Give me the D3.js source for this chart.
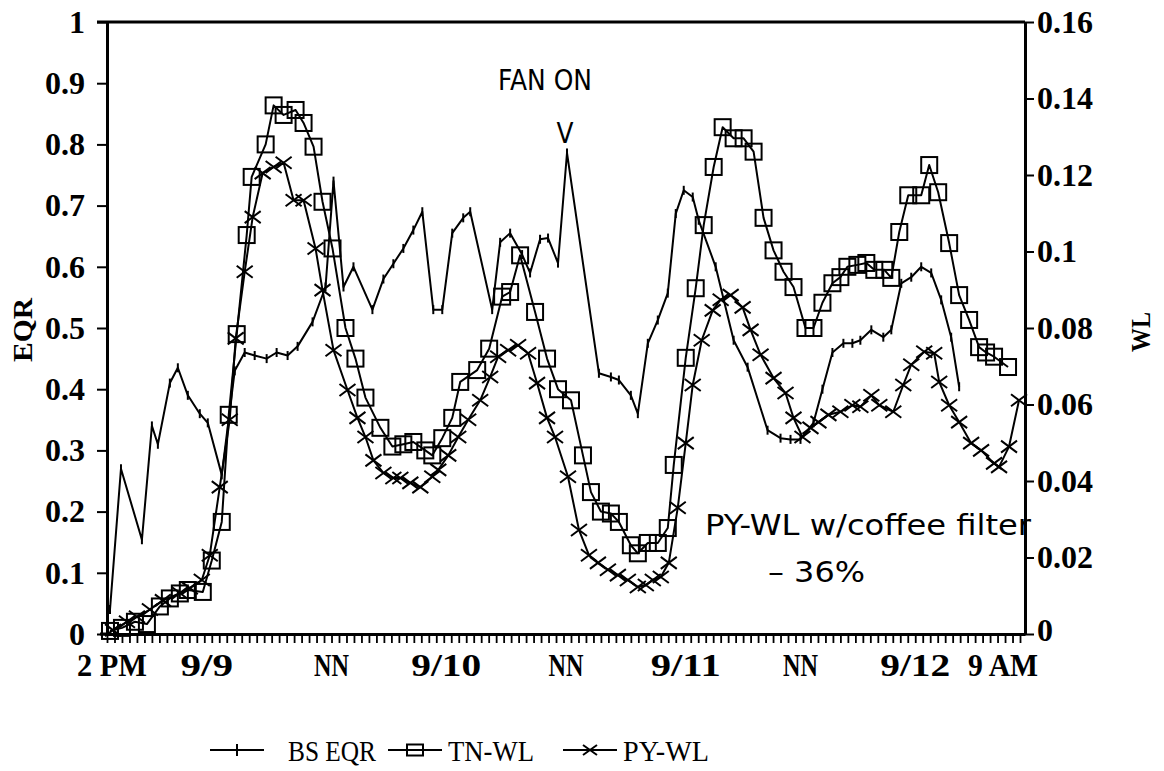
<!DOCTYPE html>
<html lang="en">
<head>
<meta charset="utf-8">
<title>BS EQR, TN-WL and PY-WL</title>
<style>
  body { margin: 0; background: #fff; }
  svg text { fill: #000; }
  .tick-label { font-family: "Liberation Serif", "Times New Roman", serif; font-weight: bold; font-size: 32px; }
  .axis-title { font-family: "Liberation Serif", "Times New Roman", serif; font-weight: bold; font-size: 28px; }
  .legend-label { font-family: "Liberation Serif", "Times New Roman", serif; font-size: 29px; }
  .note { font-family: "DejaVu Sans", sans-serif; font-size: 29px; }
  .series { fill: none; stroke: #000; stroke-width: 2; stroke-linejoin: round; }
  .marker { fill: none; stroke: #000; stroke-width: 2; }
</style>
</head>
<body>
<div class="chart"></div>
<script src="https://d3js.org/d3.v7.min.js"></script>
<script>
// hours since 2 PM on 9/8
var bsHours = [0.3, 1.4, 3.5, 4.5, 5.1, 6.3, 7.1, 8.1, 9.3, 10.1, 11.5, 12.8, 13.8, 14.8, 16.0, 17.0, 18.1, 19.1, 20.6, 21.9,
  22.7, 23.7, 24.7, 26.6, 27.7, 28.7, 29.7, 30.7, 31.6, 32.7, 33.6, 34.6, 35.7, 36.4, 38.6, 39.4, 40.4, 41.6, 42.4, 43.4,
  44.2, 45.2, 46.1, 49.3, 50.5, 51.3, 52.5, 53.2, 54.2, 55.2, 56.2, 57.0, 57.8, 58.7, 59.3, 61.0, 62.8, 64.2, 66.2, 67.5,
  68.5, 69.5, 70.8, 71.7, 72.7, 73.8, 74.7, 75.5, 76.6, 77.8, 78.6, 79.6, 80.6, 81.6, 82.6, 83.6, 84.6, 85.4];
var bsEqr = [0.04, 0.27, 0.154, 0.34, 0.31, 0.41, 0.435, 0.39, 0.36, 0.345, 0.26, 0.43, 0.46, 0.455, 0.45, 0.46, 0.455, 0.47, 0.51, 0.567,
  0.74, 0.567, 0.6, 0.53, 0.58, 0.605, 0.63, 0.66, 0.69, 0.53, 0.53, 0.655, 0.68, 0.69, 0.53, 0.64, 0.655, 0.62, 0.59, 0.645,
  0.647, 0.606, 0.786, 0.426, 0.42, 0.415, 0.39, 0.36, 0.475, 0.513, 0.557, 0.687, 0.725, 0.714, 0.676, 0.6, 0.48, 0.436, 0.333, 0.32,
  0.318, 0.318, 0.345, 0.4, 0.46, 0.475, 0.475, 0.48, 0.497, 0.485, 0.497, 0.573, 0.583, 0.6, 0.59, 0.546, 0.485, 0.404];

var tnHours = [0.3, 1.5, 2.8, 4.0, 5.3, 6.3, 7.3, 8.1, 9.6, 10.5, 11.5, 12.2, 13.0, 14.0, 14.5, 15.9, 16.7, 17.7, 18.9, 19.7,
  20.7, 21.6, 22.6, 23.9, 24.9, 25.9, 27.4, 28.6, 29.7, 30.7, 31.9, 32.6, 33.6, 34.6, 35.4, 37.1, 38.3, 39.6, 40.4, 41.4,
  42.9, 44.1, 45.2, 46.5, 47.7, 48.5, 49.5, 50.5, 51.3, 52.5, 53.2, 54.2, 55.2, 56.2, 56.8, 58.0, 59.0, 59.8, 60.8, 61.7,
  62.8, 63.8, 64.8, 65.8, 66.8, 67.8, 68.8, 70.0, 70.8, 71.7, 72.7, 73.5, 74.2, 75.2, 76.1, 76.9, 77.9, 78.6, 79.4, 80.3,
  81.6, 82.4, 83.3, 84.4, 85.4, 86.4, 87.4, 88.1, 88.9, 90.3];
var tnWl = [0.0008, 0.0016, 0.0032, 0.0026, 0.0072, 0.0093, 0.0106, 0.0115, 0.011, 0.0192, 0.0293, 0.0573, 0.0784, 0.1043, 0.1195, 0.128, 0.1382, 0.1357, 0.137, 0.1336,
  0.1274, 0.113, 0.1008, 0.08, 0.072, 0.0618, 0.0539, 0.049, 0.0496, 0.0502, 0.048, 0.0467, 0.0512, 0.0565, 0.0659, 0.069, 0.0746, 0.0882, 0.0894, 0.099,
  0.0842, 0.072, 0.064, 0.0611, 0.0467, 0.0371, 0.032, 0.0315, 0.0293, 0.0232, 0.0211, 0.0238, 0.0238, 0.0277, 0.0442, 0.0722, 0.0904, 0.1069, 0.1221, 0.1325,
  0.1296, 0.1296, 0.1261, 0.1088, 0.1003, 0.0947, 0.0907, 0.08, 0.08, 0.0866, 0.0917, 0.0933, 0.096, 0.0965, 0.097, 0.0952, 0.0952, 0.0931, 0.1051, 0.1147,
  0.1147, 0.1226, 0.1155, 0.1022, 0.0886, 0.0821, 0.075, 0.0736, 0.0725, 0.0698];

var pyHours = [0.6, 2.0, 3.0, 4.3, 5.6, 7.3, 8.3, 9.5, 10.3, 11.3, 12.3, 12.9, 13.8, 14.6, 15.6, 16.7, 17.7, 18.7, 19.7, 20.9,
  21.6, 22.7, 24.1, 25.1, 25.9, 26.7, 27.7, 28.7, 29.4, 30.4, 31.4, 32.6, 33.2, 34.2, 35.2, 36.2, 37.4, 38.4, 39.2, 40.2,
  41.2, 42.2, 43.1, 44.1, 44.9, 46.2, 47.3, 48.3, 49.2, 50.2, 51.2, 52.2, 53.2, 54.0, 54.7, 55.5, 56.3, 57.2, 58.0, 58.7,
  59.6, 60.7, 61.5, 62.5, 63.7, 64.5, 65.5, 66.8, 68.0, 68.8, 69.7, 70.5, 71.3, 72.3, 73.5, 74.7, 75.5, 76.6, 77.4, 78.8,
  79.8, 80.6, 81.9, 82.9, 83.4, 84.4, 85.4, 86.6, 87.6, 88.9, 89.4, 90.4, 91.4];
var pyWl = [0.001, 0.0032, 0.0045, 0.0064, 0.0088, 0.0107, 0.012, 0.0141, 0.0206, 0.0384, 0.056, 0.0773, 0.0947, 0.109, 0.1205, 0.1221, 0.1232, 0.1134, 0.1134, 0.1008,
  0.0899, 0.0742, 0.0638, 0.0565, 0.0515, 0.0454, 0.0421, 0.0408, 0.0408, 0.0395, 0.0384, 0.0411, 0.0429, 0.0467, 0.0515, 0.056, 0.0611, 0.0672, 0.0725, 0.0742,
  0.0755, 0.0734, 0.0656, 0.0565, 0.0515, 0.0411, 0.0272, 0.0206, 0.0186, 0.0168, 0.0154, 0.0141, 0.0123, 0.0128, 0.0141, 0.0149, 0.0186, 0.033, 0.0499, 0.0651,
  0.0768, 0.0846, 0.0874, 0.0886, 0.0854, 0.0795, 0.073, 0.0669, 0.063, 0.0565, 0.0515, 0.0539, 0.0554, 0.0573, 0.0581, 0.0598, 0.0594, 0.0624, 0.0598, 0.0581,
  0.0651, 0.0704, 0.0738, 0.0734, 0.0659, 0.0598, 0.0554, 0.0499, 0.048, 0.0446, 0.0437, 0.049, 0.0611];

var xLabels = ["2 PM", "9/9", "NN", "9/10", "NN", "9/11", "NN", "9/12", "9 AM"];
var xLabelHours = [0.5, 10, 22.5, 34, 46, 58, 69.5, 81, 89.8];
var xTickHours = d3.range(0, 92, 0.75);
var eqrTicks = [0, 0.1, 0.2, 0.3, 0.4, 0.5, 0.6, 0.7, 0.8, 0.9, 1];
var wlTicks = [0, 0.02, 0.04, 0.06, 0.08, 0.1, 0.12, 0.14, 0.16];
var legendNames = ["BS EQR", "TN-WL", "PY-WL"];

var width = 1164, height = 771;
var plotL = 107, plotR = 1025, plotT = 22, plotB = 634;

var x = d3.scaleLinear().domain([0, 92]).range([plotL, plotR]);
var yL = d3.scaleLinear().domain([0, 1]).range([plotB, plotT]);
var yR = d3.scaleLinear().domain([0, 0.16]).range([plotB, plotT]);

var svg = d3.select(".chart").append("svg")
  .attr("width", width)
  .attr("height", height)
  .style("display", "block");

// left axis (EQR)
var axL = svg.append("g")
  .attr("transform", "translate(" + plotL + ",0)")
  .call(d3.axisLeft(yL).tickValues(eqrTicks).tickSize(10).tickSizeOuter(0)
    .tickFormat(function(d) { return (d === 0 || d === 1) ? String(d) : d3.format(".1f")(d); }));

// right axis (WL)
var axR = svg.append("g")
  .attr("transform", "translate(" + plotR + ",0)")
  .call(d3.axisRight(yR).tickValues(wlTicks).tickSize(9).tickSizeOuter(0)
    .tickFormat(function(d) { return d === 0 ? "0" : d3.format(".2f")(d).replace(/0$/, ""); }));

// bottom axis, small ticks only
var axB = svg.append("g")
  .attr("transform", "translate(0," + plotB + ")")
  .call(d3.axisBottom(x).tickValues(xTickHours).tickSize(9).tickSizeOuter(0).tickFormat(""));

[axL, axR, axB].forEach(function(g) {
  g.attr("font-family", null).attr("font-size", null);
  g.select(".domain").attr("stroke", "#000").attr("stroke-width", 3);
  g.selectAll(".tick line").attr("stroke", "#000").attr("stroke-width", 2);
  g.selectAll(".tick text").attr("class", "tick-label");
});
axL.selectAll(".tick text").attr("x", -22);
axR.selectAll(".tick text").attr("x", 12);
axR.selectAll(".tick text").filter(function(d) { return d === 0; }).attr("dy", "0.2em");
axB.selectAll(".tick line").attr("stroke-width", 1.8);

// top frame line and bottom axis stub on the left
svg.append("line").attr("x1", plotL - 10).attr("x2", plotR).attr("y1", plotT).attr("y2", plotT)
  .attr("stroke", "#000").attr("stroke-width", 3);
svg.append("line").attr("x1", plotL - 7).attr("x2", plotL).attr("y1", plotB).attr("y2", plotB)
  .attr("stroke", "#000").attr("stroke-width", 3);

// x labels
svg.append("g").selectAll("text")
  .data(xLabels)
  .join("text")
  .attr("class", "tick-label")
  .attr("x", function(d, i) { return x(xLabelHours[i]); })
  .attr("y", 676)
  .attr("text-anchor", "middle")
  .attr("textLength", function(d) { return d.length * 17.5; })
  .attr("lengthAdjust", "spacingAndGlyphs")
  .text(function(d) { return d; });

// axis titles
svg.append("text").attr("class", "axis-title")
  .attr("transform", "translate(32,330) rotate(-90)")
  .attr("text-anchor", "middle")
  .attr("textLength", 64).attr("lengthAdjust", "spacingAndGlyphs")
  .text("EQR");
svg.append("text").attr("class", "axis-title")
  .attr("transform", "translate(1150,332) rotate(-90)")
  .attr("text-anchor", "middle")
  .attr("textLength", 40).attr("lengthAdjust", "spacingAndGlyphs")
  .text("WL");

// series
var bsData = bsHours.map(function(h, i) { return [x(h), yL(bsEqr[i])]; });
var tnData = tnHours.map(function(h, i) { return [x(h), yR(tnWl[i])]; });
var pyData = pyHours.map(function(h, i) { return [x(h), yR(pyWl[i])]; });

var line = d3.line();

svg.append("path").attr("class", "series").attr("d", line(bsData));
svg.append("path").attr("class", "series").attr("d", line(tnData));
svg.append("path").attr("class", "series").attr("d", line(pyData));

var tickMark = "M0,-4.5V4.5";
var crossMark = "M-8,-6L8,6M-8,6L8,-6";

svg.append("g").selectAll("path")
  .data(bsData).join("path")
  .attr("class", "marker")
  .attr("transform", function(d) { return "translate(" + d[0] + "," + d[1] + ")"; })
  .attr("d", tickMark);

svg.append("g").selectAll("rect")
  .data(tnData).join("rect")
  .attr("class", "marker")
  .attr("x", function(d) { return d[0] - 8; })
  .attr("y", function(d) { return d[1] - 8; })
  .attr("width", 16)
  .attr("height", 16);

svg.append("g").selectAll("path")
  .data(pyData).join("path")
  .attr("class", "marker")
  .attr("transform", function(d) { return "translate(" + d[0] + "," + d[1] + ")"; })
  .attr("d", crossMark);

// notes
svg.append("text").attr("class", "note")
  .attr("x", 545).attr("y", 90).attr("text-anchor", "middle")
  .attr("textLength", 94).attr("lengthAdjust", "spacingAndGlyphs")
  .text("FAN ON");
svg.append("text").attr("class", "note")
  .attr("x", 565).attr("y", 143).attr("text-anchor", "middle")
  .attr("textLength", 17).attr("lengthAdjust", "spacingAndGlyphs")
  .text("V");
svg.append("text").attr("class", "note")
  .attr("x", 705).attr("y", 535)
  .attr("textLength", 326).attr("lengthAdjust", "spacingAndGlyphs")
  .text("PY-WL w/coffee filter");
svg.append("text").attr("class", "note")
  .attr("x", 768).attr("y", 582)
  .attr("textLength", 97).attr("lengthAdjust", "spacingAndGlyphs")
  .text("\u2013 36%");

// legend
var legendX = [210, 388, 563];
var legendTextLen = [88, 86, 86];
var lg = svg.append("g").selectAll("g")
  .data(legendNames).join("g")
  .attr("transform", function(d, i) { return "translate(" + legendX[i] + ",750)"; });

lg.append("line").attr("x1", 0).attr("x2", 54).attr("y1", 0).attr("y2", 0)
  .attr("stroke", "#000").attr("stroke-width", 2);
lg.filter(function(d, i) { return i === 0; }).append("path")
  .attr("class", "marker").attr("d", "M27,-6V6");
lg.filter(function(d, i) { return i === 1; }).append("rect")
  .attr("class", "marker").attr("x", 19).attr("y", -5.5).attr("width", 16).attr("height", 11);
lg.filter(function(d, i) { return i === 2; }).append("path")
  .attr("class", "marker").attr("d", "M20,-5L34,5M20,5L34,-5");
lg.append("text").attr("class", "legend-label")
  .attr("x", function(d, i) { return i === 0 ? 78 : 60; })
  .attr("y", 11)
  .attr("textLength", function(d, i) { return legendTextLen[i]; })
  .attr("lengthAdjust", "spacingAndGlyphs")
  .text(function(d) { return d; });
</script>
</body>
</html>
